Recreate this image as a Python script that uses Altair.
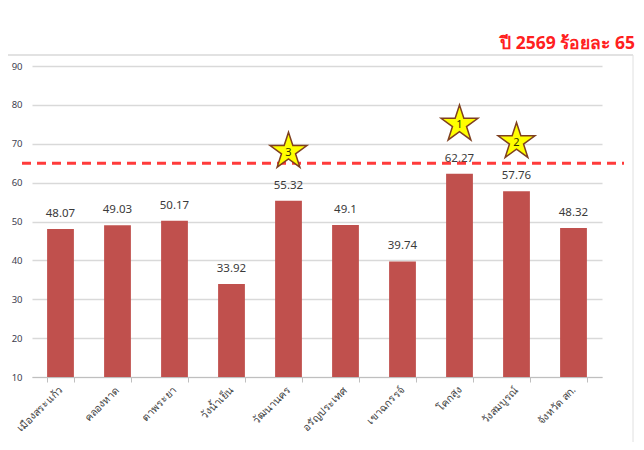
import altair as alt
import pandas as pd

districts = ["เมืองสระแก้ว", "คลองหาด", "ตาพระยา", "วังน้ำเย็น", "วัฒนานคร",
             "อรัญประเทศ", "เขาฉกรรจ์", "โคกสูง", "วังสมบูรณ์", "จังหวัด สก."]
values = [48.07, 49.03, 50.17, 33.92, 55.32, 49.1, 39.74, 62.27, 57.76, 48.32]

star_districts = ["โคกสูง", "วังสมบูรณ์", "วัฒนานคร"]
star_ranks = ["1", "2", "3"]
star_levels = [75, 70.5, 68]

target = 65
title_text = "ปี 2569 ร้อยละ 65"

W, H = 570, 311
FONT = "Noto Sans"

df = pd.DataFrame({"district": districts, "value": values})
stars = pd.DataFrame({"district": star_districts, "rank": star_ranks, "level": star_levels})

x_enc = alt.X("district:N", sort=districts, title=None,
              scale=alt.Scale(paddingInner=0.53, paddingOuter=0.265),
              axis=alt.Axis(labelAngle=-45, labelAlign="right", labelBaseline="middle",
                            labelFontSize=10.5, labelColor="#404040", labelPadding=6,
                            tickBand="extent", tickColor="#BFBFBF", tickSize=5,
                            domainColor="#BFBFBF", labelFont=FONT))
y_scale = alt.Scale(domain=[10, 90], nice=False, zero=False)
y_axis = alt.Axis(values=list(range(10, 91, 10)), tickCount=9, labelFontSize=9.5,
                  labelColor="#404050", labelPadding=10, ticks=False, domain=False,
                  gridColor="#D9D9D9", gridWidth=1.5, labelFont=FONT)

base = alt.Chart(df)

bars = base.mark_bar(color="#C0504D").encode(
    x=x_enc,
    y=alt.Y("value:Q", scale=y_scale, axis=y_axis, title=None),
    y2=alt.datum(10),
)

labels = base.mark_text(baseline="bottom", dy=-10, fontSize=11.5, color="#3a3a3a",
                        font=FONT).encode(
    x=alt.X("district:N", sort=districts),
    y=alt.Y("value:Q", scale=y_scale),
    text=alt.Text("value:Q", format=".2~f"),
)

rule = alt.Chart(pd.DataFrame({"t": [target]})).mark_rule(
    color="#FF3B3B", strokeWidth=3, strokeDash=[9, 6]
).encode(
    y=alt.Y("t:Q", scale=y_scale),
    x=alt.value(-10), x2=alt.value(592),
)

star_path = ("M0,-1L0.2245,-0.309L0.951,-0.309L0.363,0.118L0.588,0.809L0,0.382"
             "L-0.588,0.809L-0.363,0.118L-0.951,-0.309L-0.2245,-0.309Z")

star_marks = alt.Chart(stars).mark_point(
    shape=star_path, size=1500, filled=True, fill="#FFFF00", stroke="#7F4020",
    strokeWidth=1.5, opacity=1
).encode(
    x=alt.X("district:N", sort=districts),
    y=alt.Y("level:Q", scale=y_scale),
)

star_text = alt.Chart(stars).mark_text(fontSize=11, color="#333300", dy=1, font=FONT).encode(
    x=alt.X("district:N", sort=districts),
    y=alt.Y("level:Q", scale=y_scale),
    text="rank:N",
)

title = alt.Chart(pd.DataFrame({"t": [title_text]})).mark_text(
    align="right", baseline="middle", fontSize=17.5, fontWeight="bold",
    color="#FF2020", font=FONT
).encode(x=alt.value(603), y=alt.value(-22), text="t:N")

frame_top = alt.Chart(pd.DataFrame({"a": [0]})).mark_rule(color="#D9D9D9", strokeWidth=1.5).encode(
    x=alt.value(-29), x2=alt.value(601), y=alt.value(-11))
frame_right = alt.Chart(pd.DataFrame({"a": [0]})).mark_rule(color="#E0E0E0", strokeWidth=1).encode(
    x=alt.value(601), y=alt.value(-11), y2=alt.value(383))

chart = alt.layer(bars, labels, rule, star_marks, star_text, title, frame_top, frame_right).properties(
    width=W, height=H,
    background="white",
    autosize=alt.AutoSizeParams(type="none"),
    padding={"left": 24, "top": 58, "right": 34, "bottom": 65},
).configure_view(strokeWidth=0, stroke="transparent")

chart.save("out.html", embed_options={"renderer": "svg", "actions": False})
